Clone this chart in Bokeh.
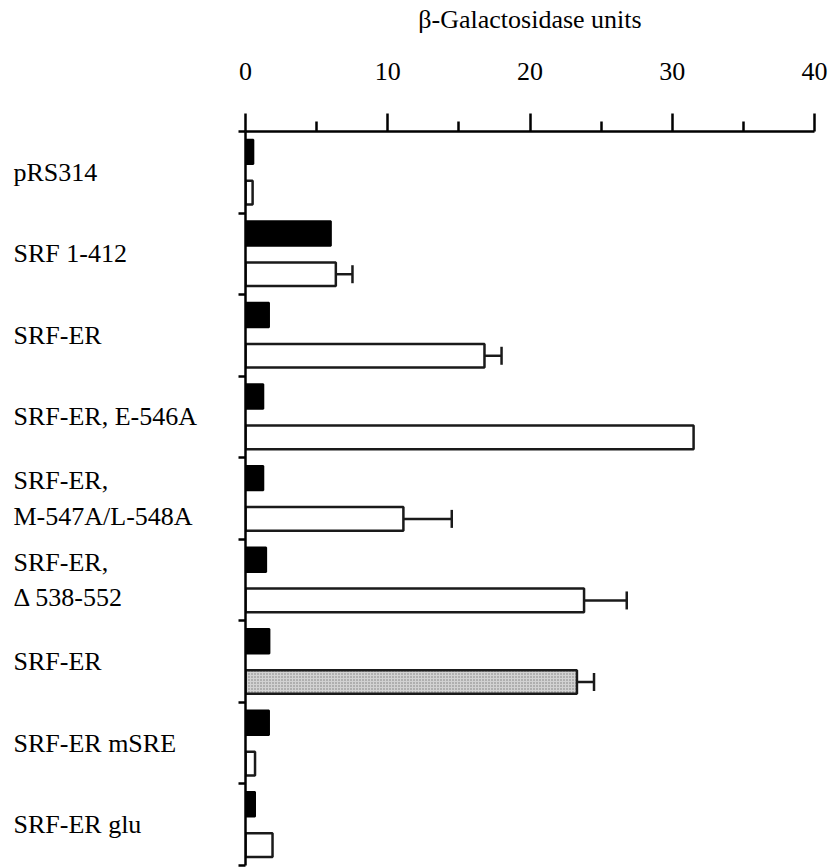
from bokeh.plotting import figure
from bokeh.layouts import row
from bokeh.models import (ColumnDataSource, Range1d, FixedTicker, Whisker, TeeHead)
from bokeh.core.properties import value
from bokeh.embed import file_html
from bokeh.resources import INLINE

# Reporter constructs, top to bottom
constructs = [
    "pRS314",
    "SRF 1-412",
    "SRF-ER",
    "SRF-ER, E-546A",
    "SRF-ER,\nM-547A/L-548A",
    "SRF-ER,\n\u0394 538-552",
    "SRF-ER",
    "SRF-ER mSRE",
    "SRF-ER glu",
]
# beta-galactosidase units: filled bars (upper) and open bars (lower)
filled_values = [0.55, 6.0, 1.65, 1.25, 1.25, 1.45, 1.68, 1.65, 0.67]
open_values = [0.5, 6.35, 16.8, 31.5, 11.1, 23.8, 23.3, 0.67, 1.9]
open_errors = [0, 1.17, 1.2, 0, 3.4, 3.0, 1.2, 0, 0]
open_shaded = [False, False, False, False, False, False, True, False, False]
x_ticks = [0, 10, 20, 30, 40]
x_minor_ticks = [5, 15, 25, 35]

FONT = "Liberation Serif"
n = len(constructs)
LEFT_W = 235

# --- construct names panel -------------------------------------------------
names = figure(width=LEFT_W, height=868,
               x_range=Range1d(0, LEFT_W), y_range=Range1d(n, 0),
               x_axis_type=None, y_axis_type=None,
               min_border_left=0, min_border_right=0,
               min_border_top=131, min_border_bottom=3,
               output_backend="svg", toolbar_location=None,
               outline_line_color=None)
names.xgrid.visible = False
names.ygrid.visible = False
name_src = ColumnDataSource(dict(x=[13] * n, y=[i + 0.5 for i in range(n)], text=constructs))
names.text(x="x", y="y", text="text", source=name_src,
           text_font=value(FONT), text_font_size="26px", text_color="black",
           text_align="left", text_baseline="middle", text_line_height=1.22)

# --- bar chart -------------------------------------------------------------
p = figure(width=829 - LEFT_W, height=868,
           x_range=Range1d(0, 40), y_range=Range1d(n, 0),
           x_axis_location="above",
           min_border_left=10, min_border_right=15,
           min_border_top=131, min_border_bottom=3,
           output_backend="svg", toolbar_location=None,
           outline_line_color=None, background_fill_color="white")
p.xgrid.visible = False
p.ygrid.visible = False

# top value axis
xa = p.xaxis[0]
xa.ticker = FixedTicker(ticks=x_ticks, minor_ticks=x_minor_ticks)
xa.axis_line_width = 2.5
xa.major_tick_line_width = 2.5
xa.minor_tick_line_width = 2.5
xa.major_tick_out = 18
xa.major_tick_in = 0
xa.minor_tick_out = 10
xa.minor_tick_in = 0
xa.major_label_text_font = FONT
xa.major_label_text_font_size = "26px"
xa.major_label_text_color = "black"
xa.major_label_standoff = 34
xa.axis_label = "\u03b2-Galactosidase units"
xa.axis_label_text_font = FONT
xa.axis_label_text_font_size = "26px"
xa.axis_label_text_font_style = "normal"
xa.axis_label_text_color = "black"
xa.axis_label_standoff = 26

# left axis: separator ticks between constructs
ya = p.yaxis[0]
ya.ticker = FixedTicker(ticks=list(range(n + 1)))
ya.major_label_overrides = {i: "" for i in range(n + 1)}
ya.major_label_text_font_size = "0px"
ya.major_label_standoff = 0
ya.axis_line_width = 2.5
ya.major_tick_line_width = 2.5
ya.major_tick_out = 7
ya.major_tick_in = 0
ya.minor_tick_line_color = None

# filled bars
p.hbar(y=[i + 0.25 for i in range(n)], left=0, right=filled_values,
       height=0.3, fill_color="black", line_color="black", line_width=2)

# open bars
open_idx = [i for i in range(n) if not open_shaded[i]]
p.hbar(y=[i + 0.75 for i in open_idx], left=0,
       right=[open_values[i] for i in open_idx],
       height=0.29, fill_color="white", line_color="#1a1a1a", line_width=2.5)

# shaded bar
shade_idx = [i for i in range(n) if open_shaded[i]]
p.hbar(y=[i + 0.75 for i in shade_idx], left=0,
       right=[open_values[i] for i in shade_idx],
       height=0.29, fill_color="#d2d2d2", line_color="#1a1a1a", line_width=2.5,
       hatch_pattern="dot", hatch_scale=3, hatch_weight=1, hatch_color="#7a7a7a")

# error bars on the open bars
err_idx = [i for i in range(n) if open_errors[i] > 0]
err_src = ColumnDataSource(dict(
    base=[i + 0.75 for i in err_idx],
    lower=[open_values[i] for i in err_idx],
    upper=[open_values[i] + open_errors[i] for i in err_idx],
))
p.add_layout(Whisker(source=err_src, base="base", lower="lower", upper="upper",
                     dimension="width", lower_head=None,
                     upper_head=TeeHead(size=18, line_width=2.5, line_color="#1a1a1a"),
                     line_width=2.5, line_color="#1a1a1a"))

layout = row(names, p, spacing=0)
open("out.html", "w").write(file_html(layout, INLINE))
